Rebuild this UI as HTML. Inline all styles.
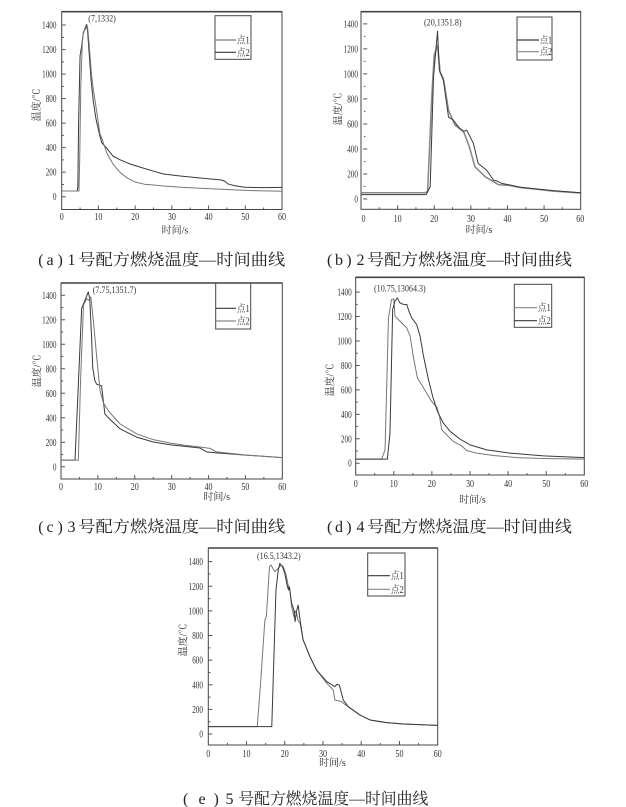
<!DOCTYPE html>
<html><head><meta charset="utf-8">
<style>html,body{margin:0;padding:0;background:#fff}svg{display:block}</style>
</head><body>
<svg width="626" height="807" viewBox="0 0 626 807" xmlns="http://www.w3.org/2000/svg" font-family="'Liberation Serif','Noto Serif CJK SC',serif">
<rect width="626" height="807" fill="#fff"/>

<!-- ================= CHART A ================= -->
<rect x="61.7" y="11.7" width="220.3" height="197.8" fill="none" stroke="#444" stroke-width="1"/>
<line x1="61.7" y1="11.7" x2="282" y2="11.7" stroke="#444" stroke-width="1.6"/>
<g transform="translate(61.7,196.7) scale(3.6717,-0.1226)" fill="none" stroke-linejoin="round">
<path vector-effect="non-scaling-stroke" stroke="#555" stroke-width="1" d="M0 0H1.1M0 200H1.1M0 400H1.1M0 600H1.1M0 800H1.1M0 1000H1.1M0 1200H1.1M0 1400H1.1M0 100H0.6M0 300H0.6M0 500H0.6M0 700H0.6M0 900H0.6M0 1100H0.6M0 1300H0.6M10 -104V-72M20 -104V-72M30 -104V-72M40 -104V-72M50 -104V-72M5 -104V-88M15 -104V-88M25 -104V-88M35 -104V-88M45 -104V-88M55 -104V-88"/>
<polyline vector-effect="non-scaling-stroke" stroke="#3a3a3a" stroke-width="1" points="0,46 4.2,46 4.4,80 4.6,600 5,1150 5.4,1220 5.8,1320 6.3,1370 6.8,1405 7.1,1330 7.4,1200 8,950 8.6,780 9.3,640 10.2,520 10.9,440 12,405 14,330 16,300 18.6,267 22,235 25,208 27.7,185 32,170 37,155 41.3,142 43.5,136 44.5,125 45.3,104 47,90 49.8,77 55,74 60,76"/>
<polyline vector-effect="non-scaling-stroke" stroke="#777" stroke-width="1" points="0,46 4.7,46 4.9,300 5.2,900 5.6,1250 5.9,1345 6.5,1370 7,1390 7.2,1340 7.6,1200 8.1,1000 8.6,880 9.5,700 10.4,516 11,470 12.3,354 14,265 16,195 18,150 20,120 22.5,102 25,95 27.7,87 32,78 37,70 42,63 47,56 52,50 60,44"/>
</g>
<g font-size="10" fill="#333" text-anchor="end">
<text transform="translate(56.5,200.2) scale(0.72,1)">0</text>
<text transform="translate(56.5,175.7) scale(0.72,1)">200</text>
<text transform="translate(56.5,151.2) scale(0.72,1)">400</text>
<text transform="translate(56.5,126.6) scale(0.72,1)">600</text>
<text transform="translate(56.5,102.1) scale(0.72,1)">800</text>
<text transform="translate(56.5,77.6) scale(0.72,1)">1000</text>
<text transform="translate(56.5,53.1) scale(0.72,1)">1200</text>
<text transform="translate(56.5,28.6) scale(0.72,1)">1400</text>
</g>
<g font-size="10" fill="#333" text-anchor="middle">
<text transform="translate(61.7,220.2) scale(0.8,1)">0</text>
<text transform="translate(98.4,220.2) scale(0.8,1)">10</text>
<text transform="translate(135.1,220.2) scale(0.8,1)">20</text>
<text transform="translate(171.9,220.2) scale(0.8,1)">30</text>
<text transform="translate(208.6,220.2) scale(0.8,1)">40</text>
<text transform="translate(245.3,220.2) scale(0.8,1)">50</text>
<text transform="translate(282,220.2) scale(0.8,1)">60</text>
<text x="175" y="233.5">时间/s</text>
<text transform="translate(36.7,105) rotate(-90)" y="3.5">温度/℃</text>
</g>
<text transform="translate(88.3,21.3) scale(0.85,1)" font-size="9.5" fill="#333">(7,1332)</text>
<rect x="215" y="15.7" width="36" height="43.6" fill="none" stroke="#444" stroke-width="1"/>
<line x1="215" y1="40" x2="236" y2="40" stroke="#777" stroke-width="1.2"/>
<line x1="215" y1="52.3" x2="236" y2="52.3" stroke="#3a3a3a" stroke-width="1.2"/>
<text transform="translate(237,43.5) scale(0.85,1)" font-size="10" fill="#333">点1</text>
<text transform="translate(237,55.8) scale(0.85,1)" font-size="10" fill="#333">点2</text>

<!-- ================= CHART B ================= -->
<rect x="361" y="11.7" width="219.7" height="197.6" fill="none" stroke="#444" stroke-width="1"/>
<line x1="361" y1="11.7" x2="580.7" y2="11.7" stroke="#444" stroke-width="1.6"/>
<g transform="translate(361,199) scale(3.6617,-0.1251)" fill="none" stroke-linejoin="round">
<path vector-effect="non-scaling-stroke" stroke="#555" stroke-width="1" d="M0.6 0H1.7M0.6 200H1.7M0.6 400H1.7M0.6 600H1.7M0.6 800H1.7M0.6 1000H1.7M0.6 1200H1.7M0.6 1400H1.7M0.8 100H1.2M0.8 300H1.2M0.8 500H1.2M0.8 700H1.2M0.8 900H1.2M0.8 1100H1.2M0.8 1300H1.2M10 -82V-50M20 -82V-50M30 -82V-50M40 -82V-50M50 -82V-50M5 -82V-66M15 -82V-66M25 -82V-66M35 -82V-66M45 -82V-66M55 -82V-66"/>
<polyline vector-effect="non-scaling-stroke" stroke="#8a8a8a" stroke-width="1.6" points="0,50 17.5,50 18.2,60 19.3,800 20,1150 20.9,1228 21.6,1015 22.5,960 23.9,709 25.7,590 28,540 29.6,417 31.1,258 33.9,178 36.2,138 37.5,115 40.7,108 43.4,92 48,78 52.5,63 60,48"/>
<polyline vector-effect="non-scaling-stroke" stroke="#3a3a3a" stroke-width="1" points="0,35 17.8,35 18.9,98 19.8,975 20.9,1342 21.4,1028 22.5,950 23.9,656 25.2,630 27,563 28,540 28.9,550 30.7,444 32,284 34.3,231 36.2,151 37,145 38.4,125 40.7,112 43.4,95 48,80 52.5,67 60,50"/>
</g>
<g font-size="10" fill="#333" text-anchor="end">
<text transform="translate(358,202.5) scale(0.72,1)">0</text>
<text transform="translate(358,177.5) scale(0.72,1)">200</text>
<text transform="translate(358,152.5) scale(0.72,1)">400</text>
<text transform="translate(358,127.5) scale(0.72,1)">600</text>
<text transform="translate(358,102.5) scale(0.72,1)">800</text>
<text transform="translate(358,77.4) scale(0.72,1)">1000</text>
<text transform="translate(358,52.4) scale(0.72,1)">1200</text>
<text transform="translate(358,27.4) scale(0.72,1)">1400</text>
</g>
<g font-size="10" fill="#333" text-anchor="middle">
<text transform="translate(363.5,221.8) scale(0.8,1)">0</text>
<text transform="translate(397.6,221.8) scale(0.8,1)">10</text>
<text transform="translate(434.2,221.8) scale(0.8,1)">20</text>
<text transform="translate(470.9,221.8) scale(0.8,1)">30</text>
<text transform="translate(507.5,221.8) scale(0.8,1)">40</text>
<text transform="translate(544.1,221.8) scale(0.8,1)">50</text>
<text transform="translate(580.2,221.8) scale(0.8,1)">60</text>
<text x="479" y="233">时间/s</text>
<text transform="translate(338,109) rotate(-90)" y="3.5">温度/℃</text>
</g>
<text transform="translate(424,25.7) scale(0.85,1)" font-size="9.5" fill="#333">(20,1351.8)</text>
<rect x="517" y="17" width="35" height="43" fill="none" stroke="#444" stroke-width="1"/>
<line x1="517" y1="40" x2="539" y2="40" stroke="#3a3a3a" stroke-width="1.2"/>
<line x1="517" y1="51.7" x2="539" y2="51.7" stroke="#888" stroke-width="1.2"/>
<text transform="translate(540,43.5) scale(0.8,1)" font-size="10" fill="#333">点1</text>
<text transform="translate(540,55.2) scale(0.8,1)" font-size="10" fill="#333">点2</text>

<!-- captions a, b -->
<g font-size="16" fill="#222">
<text x="38.3" y="265">(</text><text x="46.5" y="265">a</text><text x="57.5" y="265">)</text><text x="67.5" y="265">1</text>
<text x="78.3" y="265" textLength="207" lengthAdjust="spacingAndGlyphs">号配方燃烧温度—时间曲线</text>
<text x="327" y="265">(</text><text x="335" y="265">b</text><text x="346.2" y="265">)</text><text x="356.5" y="265">2</text>
<text x="367" y="265" textLength="205" lengthAdjust="spacingAndGlyphs">号配方燃烧温度—时间曲线</text>
</g>

<!-- ================= CHART C ================= -->
<rect x="61" y="283" width="221.3" height="196" fill="none" stroke="#444" stroke-width="1"/>
<line x1="61" y1="283" x2="282.3" y2="283" stroke="#444" stroke-width="1.6"/>
<g transform="translate(61,466.75) scale(3.6883,-0.1225)" fill="none" stroke-linejoin="round">
<path vector-effect="non-scaling-stroke" stroke="#555" stroke-width="1" d="M0 0H1.1M0 200H1.1M0 400H1.1M0 600H1.1M0 800H1.1M0 1000H1.1M0 1200H1.1M0 1400H1.1M0 100H0.6M0 300H0.6M0 500H0.6M0 700H0.6M0 900H0.6M0 1100H0.6M0 1300H0.6M10 -100V-68M20 -100V-68M30 -100V-68M40 -100V-68M50 -100V-68M5 -100V-84M15 -100V-84M25 -100V-84M35 -100V-84M45 -100V-84M55 -100V-84"/>
<polyline vector-effect="non-scaling-stroke" stroke="#3a3a3a" stroke-width="1" points="0,54 3.8,54 4.6,600 5.6,1292 6.5,1360 7.4,1427 7.8,1370 8.3,1050 8.6,808 9.2,700 9.7,673 11,660 11.9,431 13,395 16,310 20.5,242 25,202 29.5,180 33,168 37.7,153 39.5,121 42.2,113 50,95 60,75"/>
<polyline vector-effect="non-scaling-stroke" stroke="#777" stroke-width="1" points="0,54 4.7,54 5.3,700 6.1,1319 7,1373 7.5,1360 8.1,1386 8.8,1184 9.7,888 10.6,620 11.5,520 13,450 16,350 20.5,269 25,221 29.5,194 33,178 37.7,161 40.4,150 42.2,121 50,96 60,73"/>
</g>
<g font-size="10" fill="#333" text-anchor="end">
<text transform="translate(56.5,470.25) scale(0.72,1)">0</text>
<text transform="translate(56.5,445.75) scale(0.72,1)">200</text>
<text transform="translate(56.5,421.25) scale(0.72,1)">400</text>
<text transform="translate(56.5,396.75) scale(0.72,1)">600</text>
<text transform="translate(56.5,372.25) scale(0.72,1)">800</text>
<text transform="translate(56.5,347.75) scale(0.72,1)">1000</text>
<text transform="translate(56.5,323.25) scale(0.72,1)">1200</text>
<text transform="translate(56.5,298.75) scale(0.72,1)">1400</text>
</g>
<g font-size="10" fill="#333" text-anchor="middle">
<text transform="translate(61,490.2) scale(0.8,1)">0</text>
<text transform="translate(97.9,490.2) scale(0.8,1)">10</text>
<text transform="translate(134.8,490.2) scale(0.8,1)">20</text>
<text transform="translate(171.7,490.2) scale(0.8,1)">30</text>
<text transform="translate(208.5,490.2) scale(0.8,1)">40</text>
<text transform="translate(245.4,490.2) scale(0.8,1)">50</text>
<text transform="translate(282.3,490.2) scale(0.8,1)">60</text>
<text x="216.7" y="500">时间/s</text>
<text transform="translate(37,371) rotate(-90)" y="3.5">温度/℃</text>
</g>
<text transform="translate(92.7,293) scale(0.85,1)" font-size="9.5" fill="#333">(7.75,1351.7)</text>
<rect x="215.7" y="283" width="35" height="46" fill="none" stroke="#444" stroke-width="1"/>
<line x1="215.7" y1="308.3" x2="236" y2="308.3" stroke="#3a3a3a" stroke-width="1.2"/>
<line x1="215.7" y1="321" x2="236" y2="321" stroke="#888" stroke-width="1.2"/>
<text transform="translate(237,311.8) scale(0.85,1)" font-size="10" fill="#333">点1</text>
<text transform="translate(237,324.5) scale(0.85,1)" font-size="10" fill="#333">点2</text>

<!-- ================= CHART D ================= -->
<rect x="355.7" y="277.3" width="228.6" height="197.7" fill="none" stroke="#444" stroke-width="1"/>
<line x1="355.7" y1="277.3" x2="584.3" y2="277.3" stroke="#444" stroke-width="1.6"/>
<g transform="translate(355.7,463.2) scale(3.81,-0.1222)" fill="none" stroke-linejoin="round">
<path vector-effect="non-scaling-stroke" stroke="#555" stroke-width="1" d="M0 0H1.05M0 200H1.05M0 400H1.05M0 600H1.05M0 800H1.05M0 1000H1.05M0 1200H1.05M0 1400H1.05M0 100H0.55M0 300H0.55M0 500H0.55M0 700H0.55M0 900H0.55M0 1100H0.55M0 1300H0.55M10 -97V-65M20 -97V-65M30 -97V-65M40 -97V-65M50 -97V-65M5 -97V-81M15 -97V-81M25 -97V-81M35 -97V-81M45 -97V-81M55 -97V-81"/>
<polyline vector-effect="non-scaling-stroke" stroke="#777" stroke-width="1" points="0,33 6.8,33 7.7,109 8.6,1189 9.4,1340 10,1345 10.3,1203 11.2,1176 12.5,1135 13.4,1107 14.3,1039 15.1,875 16.2,697 17.3,643 18.6,574 19.9,506 21.3,459 22,383 22.6,273 23.9,232 25.6,178 27.8,142 29.1,104 31.8,82 36.1,63 42.3,46 49.3,38 60,33"/>
<polyline vector-effect="non-scaling-stroke" stroke="#3a3a3a" stroke-width="1" points="0,33 8.3,33 9,246 9.7,1258 10.3,1326 10.9,1353 11.6,1312 12.5,1300 13.4,1299 13.9,1250 14.7,1189 16,1135 16.9,1039 17.8,875 19.1,684 20.2,547 21.3,437 22,390 23,328 24.8,260 27.4,197 30,150 34.4,109 40.5,82 49.3,60 60,46"/>
</g>
<g font-size="10" fill="#333" text-anchor="end">
<text transform="translate(351.7,466.7) scale(0.72,1)">0</text>
<text transform="translate(351.7,442.3) scale(0.72,1)">200</text>
<text transform="translate(351.7,417.8) scale(0.72,1)">400</text>
<text transform="translate(351.7,393.4) scale(0.72,1)">600</text>
<text transform="translate(351.7,368.9) scale(0.72,1)">800</text>
<text transform="translate(351.7,344.5) scale(0.72,1)">1000</text>
<text transform="translate(351.7,320.1) scale(0.72,1)">1200</text>
<text transform="translate(351.7,295.6) scale(0.72,1)">1400</text>
</g>
<g font-size="10" fill="#333" text-anchor="middle">
<text transform="translate(355.7,486.8) scale(0.8,1)">0</text>
<text transform="translate(393.8,486.8) scale(0.8,1)">10</text>
<text transform="translate(431.9,486.8) scale(0.8,1)">20</text>
<text transform="translate(470,486.8) scale(0.8,1)">30</text>
<text transform="translate(508.1,486.8) scale(0.8,1)">40</text>
<text transform="translate(546.2,486.8) scale(0.8,1)">50</text>
<text transform="translate(584.3,486.8) scale(0.8,1)">60</text>
<text x="472.5" y="503">时间/s</text>
<text transform="translate(330,380) rotate(-90)" y="3.5">温度/℃</text>
</g>
<text transform="translate(374,291.3) scale(0.85,1)" font-size="9.5" fill="#333">(10.75,13064.3)</text>
<rect x="514.3" y="284.3" width="37.4" height="43" fill="none" stroke="#444" stroke-width="1"/>
<line x1="514.3" y1="307.7" x2="537" y2="307.7" stroke="#888" stroke-width="1.2"/>
<line x1="514.3" y1="320.7" x2="537" y2="320.7" stroke="#3a3a3a" stroke-width="1.2"/>
<text transform="translate(538,311.2) scale(0.85,1)" font-size="10" fill="#333">点1</text>
<text transform="translate(538,324.2) scale(0.85,1)" font-size="10" fill="#333">点2</text>

<!-- captions c, d -->
<g font-size="16" fill="#222">
<text x="38.3" y="532">(</text><text x="46.5" y="532">c</text><text x="57.5" y="532">)</text><text x="67.5" y="532">3</text>
<text x="78.3" y="532" textLength="207" lengthAdjust="spacingAndGlyphs">号配方燃烧温度—时间曲线</text>
<text x="327" y="532">(</text><text x="335" y="532">d</text><text x="346.2" y="532">)</text><text x="356.5" y="532">4</text>
<text x="367" y="532" textLength="205" lengthAdjust="spacingAndGlyphs">号配方燃烧温度—时间曲线</text>
</g>

<!-- ================= CHART E ================= -->
<rect x="208.3" y="548" width="229.4" height="197" fill="none" stroke="#444" stroke-width="1"/>
<line x1="208.3" y1="548" x2="437.7" y2="548" stroke="#444" stroke-width="1.6"/>
<g transform="translate(208.3,734) scale(3.8233,-0.1231)" fill="none" stroke-linejoin="round">
<path vector-effect="non-scaling-stroke" stroke="#555" stroke-width="1" d="M0 0H1.05M0 200H1.05M0 400H1.05M0 600H1.05M0 800H1.05M0 1000H1.05M0 1200H1.05M0 1400H1.05M0 100H0.55M0 300H0.55M0 500H0.55M0 700H0.55M0 900H0.55M0 1100H0.55M0 1300H0.55M10 -89V-57M20 -89V-57M30 -89V-57M40 -89V-57M50 -89V-57M5 -89V-73M15 -89V-73M25 -89V-73M35 -89V-73M45 -89V-73M55 -89V-73"/>
<polyline vector-effect="non-scaling-stroke" stroke="#777" stroke-width="1" points="0,60 12.8,60 13.6,380 14.8,926 15.2,960 16,1359 16.4,1373 17.4,1319 18.3,1346 19,1370 19.6,1360 20.3,1300 21,1190 21.3,1180 21.8,1034 22.4,953 22.7,1000 23.1,980 23.5,920 24,900 24.8,764 26.6,628 28.3,520 31,412 32.7,357 33.1,276 34.9,263 35.5,245 36.6,222 39.7,154 42.3,114 46.6,92 51,81 60,70"/>
<polyline vector-effect="non-scaling-stroke" stroke="#3a3a3a" stroke-width="1" points="0,60 16.6,60 17.7,1170 18.3,1332 18.7,1386 19.4,1359 20,1305 20.7,1197 21,1170 21.2,1197 21.8,1062 22.4,1007 22.7,913 23.1,1000 23.5,1048 24,926 24.8,764 26.6,628 28.3,520 31,425 33.1,385 33.7,404 34.3,395 35.3,276 36.6,222 39.7,154 42.3,114 46.6,92 51,81 60,70"/>
</g>
<g font-size="10" fill="#333" text-anchor="end">
<text transform="translate(203,737.5) scale(0.72,1)">0</text>
<text transform="translate(203,712.9) scale(0.72,1)">200</text>
<text transform="translate(203,688.3) scale(0.72,1)">400</text>
<text transform="translate(203,663.6) scale(0.72,1)">600</text>
<text transform="translate(203,639) scale(0.72,1)">800</text>
<text transform="translate(203,614.4) scale(0.72,1)">1000</text>
<text transform="translate(203,589.8) scale(0.72,1)">1200</text>
<text transform="translate(203,565.2) scale(0.72,1)">1400</text>
</g>
<g font-size="10" fill="#333" text-anchor="middle">
<text transform="translate(208.3,756.8) scale(0.8,1)">0</text>
<text transform="translate(246.5,756.8) scale(0.8,1)">10</text>
<text transform="translate(284.8,756.8) scale(0.8,1)">20</text>
<text transform="translate(323,756.8) scale(0.8,1)">30</text>
<text transform="translate(361.2,756.8) scale(0.8,1)">40</text>
<text transform="translate(399.5,756.8) scale(0.8,1)">50</text>
<text transform="translate(437.7,756.8) scale(0.8,1)">60</text>
<text x="332.5" y="766">时间/s</text>
<text transform="translate(183,640) rotate(-90)" y="3.5">温度/℃</text>
</g>
<text transform="translate(257,559) scale(0.85,1)" font-size="9.5" fill="#333">(16.5,1343.2)</text>
<rect x="367.7" y="553" width="37.3" height="43" fill="none" stroke="#444" stroke-width="1"/>
<line x1="367.7" y1="575.7" x2="390" y2="575.7" stroke="#3a3a3a" stroke-width="1.2"/>
<line x1="367.7" y1="589.3" x2="390" y2="589.3" stroke="#888" stroke-width="1.2"/>
<text transform="translate(391,579.2) scale(0.85,1)" font-size="10" fill="#333">点1</text>
<text transform="translate(391,592.8) scale(0.85,1)" font-size="10" fill="#333">点2</text>

<!-- caption e -->
<g font-size="16" fill="#222">
<text x="183" y="804">(</text><text x="198.5" y="804">e</text><text x="213.5" y="804">)</text><text x="225.5" y="804">5</text>
<text x="238.3" y="804" textLength="190" lengthAdjust="spacingAndGlyphs">号配方燃烧温度—时间曲线</text>
</g>
</svg>
</body></html>
